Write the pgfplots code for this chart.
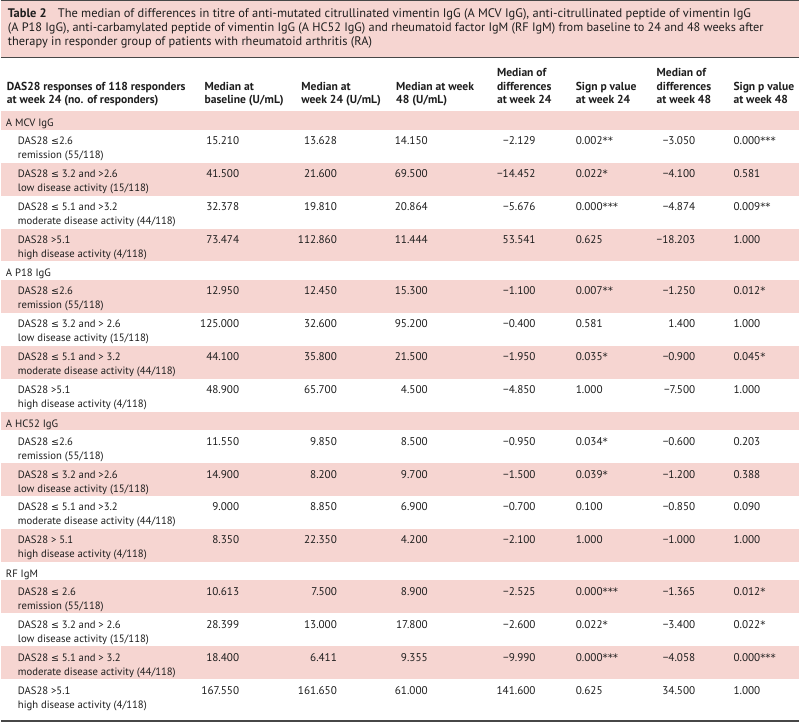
\documentclass[border=0pt]{standalone}
\usepackage{pgfplots}
\pgfplotsset{compat=1.18}
\usepackage{fontspec}
\setmainfont{PT Sans}
\newfontfamily\sym{DejaVu Sans}
\newcommand\lle{{\sym\fontsize{9.6}{12}\selectfont ≤}}
\newcommand\st{{\sym\fontsize{10.4}{10}\selectfont *}}
\definecolor{rowpink}{HTML}{F6D5D1}
\definecolor{rule}{HTML}{474747}
\definecolor{txt}{HTML}{1E1E1E}
\newcommand\lf{\fontsize{10.7}{12}\selectfont}
\newcommand\nf{\fontsize{11.2}{12}\selectfont}

% text placement helpers (y grows downwards)
\newcommand\lt[3]{\node[anchor=base west,inner sep=0pt,text=txt] at (axis cs:#1,#2) {#3};}
\newcommand\rt[3]{\node[anchor=base east,inner sep=0pt,text=txt] at (axis cs:#1,#2) {#3};}
\newcommand\band[2]{\addplot[fill=rowpink,draw=none] coordinates {(0,#1) (800,#1) (800,#2) (0,#2)} -- cycle;}
\newcommand\grp[2]{\lt{5}{#1+15.5}{\lf #2}}
\newcommand\lab[3]{\lt{17}{#1+15}{\lf #2}\lt{17}{#1+29}{\lf #3}}
\newcommand\vals[8]{%
  \rt{239}{#1+15}{\nf #2}\rt{337}{#1+15}{\nf #3}\rt{428}{#1+15}{\nf #4}\rt{536}{#1+15}{\nf #5}%
  \lt{576}{#1+15}{\nf #6}\rt{696}{#1+15}{\nf #7}\lt{734}{#1+15}{\nf #8}}

\begin{document}
\begin{tikzpicture}[font=\fontsize{11.6}{13.5}\selectfont]
\begin{axis}[x=1pt,y=1pt,xmin=0,xmax=800,ymin=0,ymax=723,y dir=reverse,
  hide axis,clip=false,enlargelimits=false]
% background
\addplot[fill=white,draw=none] coordinates {(0,0) (800,0) (800,723) (0,723)} -- cycle;
% title box
\band{0}{57.5}
\addplot[rule,line width=1.4pt] coordinates {(0,0.7) (800,0.7)};
\addplot[rule,line width=1.5pt] coordinates {(0,57.6) (800,57.6)};
% body bands
\band{111.5}{130}\band{163}{196}\band{229}{262}
\band{280.5}{313.5}\band{346.5}{379.5}
\band{412.5}{431}\band{464}{497}\band{530}{563}
\band{581.5}{614.5}\band{647.5}{680.5}
\addplot[rule,line width=1.6pt] coordinates {(0,722.2) (800,722.2)};

% title
\lt{7}{18}{\fontsize{12.45}{14}\selectfont\textbf{Table 2}\hspace{0.9em}The median of differences in titre of anti-mutated citrullinated vimentin IgG (A MCV IgG), anti-citrullinated peptide of vimentin IgG}
\lt{7}{32}{\fontsize{12.3}{14}\selectfont(A P18 IgG), anti-carbamylated peptide of vimentin IgG (A HC52 IgG) and rheumatoid factor IgM (RF IgM) from baseline to 24 and 48 weeks after}
\lt{7}{45.5}{\fontsize{12.4}{14}\selectfont therapy in responder group of patients with rheumatoid arthritis (RA)}

% header
\lt{6}{91}{\textbf{DAS28 responses of 118 responders}}
\lt{6}{104}{\textbf{at week 24 (no. of responders)}}
\lt{204}{91}{\textbf{Median at}}\lt{204}{104}{\textbf{baseline (U/mL)}}
\lt{301}{91}{\textbf{Median at}}\lt{301}{104}{\textbf{week 24 (U/mL)}}
\lt{396}{91}{\textbf{Median at week}}\lt{396}{104}{\textbf{48 (U/mL)}}
\lt{497}{77}{\textbf{Median of}}\lt{497}{91}{\textbf{differences}}\lt{497}{104}{\textbf{at week 24}}
\lt{576}{91}{\textbf{Sign p value}}\lt{576}{104}{\textbf{at week 24}}
\lt{657}{77}{\textbf{Median of}}\lt{657}{91}{\textbf{differences}}\lt{657}{104}{\textbf{at week 48}}
\lt{734}{91}{\textbf{Sign p value}}\lt{734}{104}{\textbf{at week 48}}

% A MCV IgG
\grp{111.5}{A MCV IgG}
\lab{130}{DAS28 \lle2.6}{remission (55/118)}
\vals{130}{15.210}{13.628}{14.150}{−2.129}{0.002\st\st}{−3.050}{0.000\st\st\st}
\lab{163}{DAS28 \lle\ 3.2 and >2.6}{low disease activity (15/118)}
\vals{163}{41.500}{21.600}{69.500}{−14.452}{0.022\st}{−4.100}{0.581}
\lab{196}{DAS28 \lle\ 5.1 and >3.2}{moderate disease activity (44/118)}
\vals{196}{32.378}{19.810}{20.864}{−5.676}{0.000\st\st\st}{−4.874}{0.009\st\st}
\lab{229}{DAS28 >5.1}{high disease activity (4/118)}
\vals{229}{73.474}{112.860}{11.444}{53.541}{0.625}{−18.203}{1.000}

% A P18 IgG
\grp{262}{A P18 IgG}
\lab{280.5}{DAS28 \lle2.6}{remission (55/118)}
\vals{280.5}{12.950}{12.450}{15.300}{−1.100}{0.007\st\st}{−1.250}{0.012\st}
\lab{313.5}{DAS28 \lle\ 3.2 and > 2.6}{low disease activity (15/118)}
\vals{313.5}{125.000}{32.600}{95.200}{−0.400}{0.581}{1.400}{1.000}
\lab{346.5}{DAS28 \lle\ 5.1 and > 3.2}{moderate disease activity (44/118)}
\vals{346.5}{44.100}{35.800}{21.500}{−1.950}{0.035\st}{−0.900}{0.045\st}
\lab{379.5}{DAS28 >5.1}{high disease activity (4/118)}
\vals{379.5}{48.900}{65.700}{4.500}{−4.850}{1.000}{−7.500}{1.000}

% A HC52 IgG
\grp{412.5}{A HC52 IgG}
\lab{431}{DAS28 \lle2.6}{remission (55/118)}
\vals{431}{11.550}{9.850}{8.500}{−0.950}{0.034\st}{−0.600}{0.203}
\lab{464}{DAS28 \lle\ 3.2 and >2.6}{low disease activity (15/118)}
\vals{464}{14.900}{8.200}{9.700}{−1.500}{0.039\st}{−1.200}{0.388}
\lab{497}{DAS28 \lle\ 5.1 and >3.2}{moderate disease activity (44/118)}
\vals{497}{9.000}{8.850}{6.900}{−0.700}{0.100}{−0.850}{0.090}
\lab{530}{DAS28 > 5.1}{high disease activity (4/118)}
\vals{530}{8.350}{22.350}{4.200}{−2.100}{1.000}{−1.000}{1.000}

% RF IgM
\grp{563}{RF IgM}
\lab{581.5}{DAS28 \lle\ 2.6}{remission (55/118)}
\vals{581.5}{10.613}{7.500}{8.900}{−2.525}{0.000\st\st\st}{−1.365}{0.012\st}
\lab{614.5}{DAS28 \lle\ 3.2 and > 2.6}{low disease activity (15/118)}
\vals{614.5}{28.399}{13.000}{17.800}{−2.600}{0.022\st}{−3.400}{0.022\st}
\lab{647.5}{DAS28 \lle\ 5.1 and > 3.2}{moderate disease activity (44/118)}
\vals{647.5}{18.400}{6.411}{9.355}{−9.990}{0.000\st\st\st}{−4.058}{0.000\st\st\st}
\lab{680.5}{DAS28 >5.1}{high disease activity (4/118)}
\vals{680.5}{167.550}{161.650}{61.000}{141.600}{0.625}{34.500}{1.000}
\end{axis}
\end{tikzpicture}
\end{document}
